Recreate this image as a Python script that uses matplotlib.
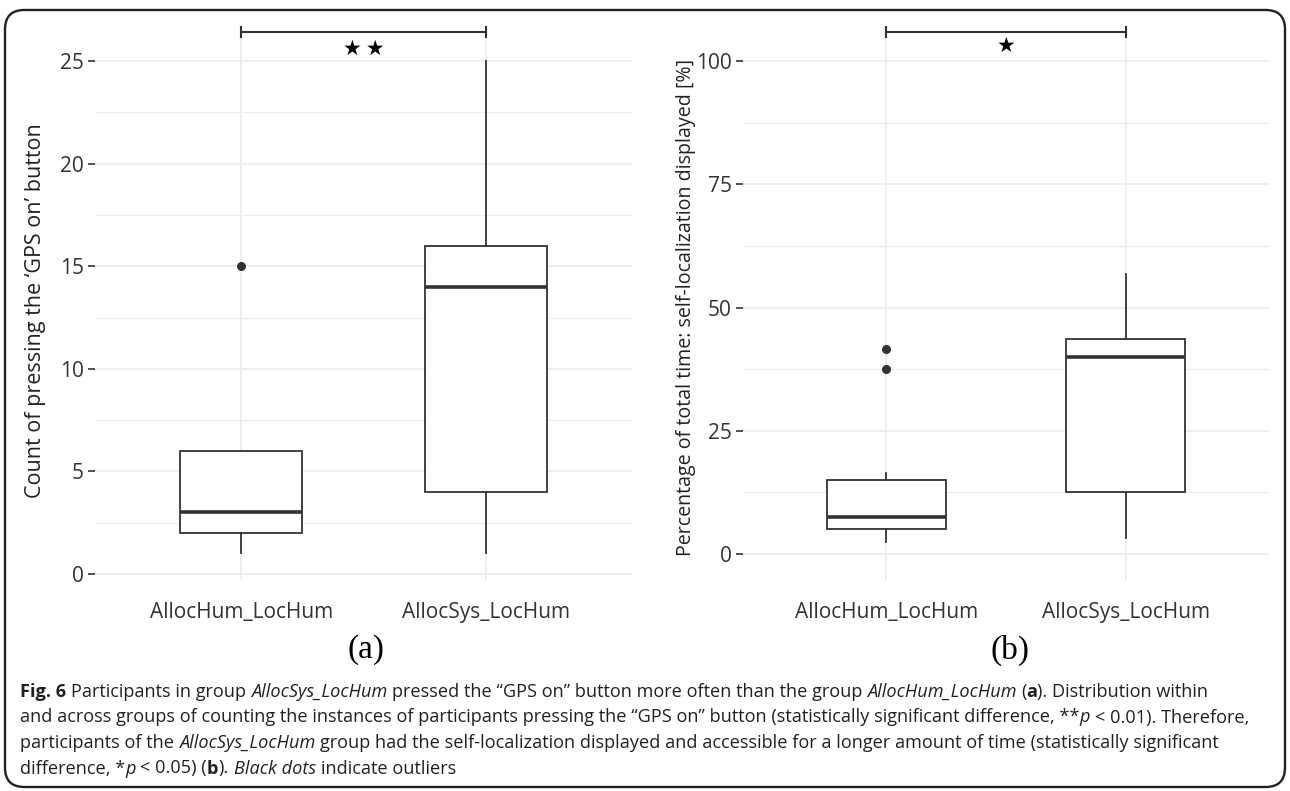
import matplotlib
matplotlib.use("Agg")
import matplotlib.pyplot as plt
from matplotlib.patches import FancyBboxPatch
from matplotlib.ticker import MultipleLocator

groups = ["AllocHum_LocHum", "AllocSys_LocHum"]

# (a) count of pressing the 'GPS on' button
gps_q1 = [2, 4]
gps_med = [3, 14]
gps_q3 = [6, 16]
gps_lo = [1, 1]
gps_hi = [6, 25]
gps_out = [[15], []]

# (b) percentage of total time self-localization displayed
pct_q1 = [5.0, 12.5]
pct_med = [7.5, 40.0]
pct_q3 = [15.0, 43.6]
pct_lo = [2.5, 3.2]
pct_hi = [16.5, 56.8]
pct_out = [[37.5, 41.6], []]

W, H = 1290, 791
fig = plt.figure(figsize=(W / 100, H / 100), dpi=100)
fig.patch.set_facecolor("white")

DARK = "#333333"
GRID = "#EBEBEB"
SANS = "Open Sans"


def px_axes(x0, x1, top, bottom):
    return fig.add_axes([x0 / W, 1 - bottom / H, (x1 - x0) / W, (bottom - top) / H])


def make_stats(q1, med, q3, lo, hi, out):
    stats = []
    for i in range(len(med)):
        stats.append(dict(q1=q1[i], med=med[i], q3=q3[i], whislo=lo[i], whishi=hi[i], fliers=out[i]))
    return stats


def draw_panel(ax, stats, ylim, major, minor, ylabel, lab_size, lab_xy,
               bracket_y, tick_h, star_y, stars):
    ax.bxp(stats, positions=[1, 2], widths=0.5, showcaps=False, patch_artist=True,
           boxprops=dict(facecolor="white", edgecolor=DARK, linewidth=1.3),
           medianprops=dict(color=DARK, linewidth=2.6),
           whiskerprops=dict(color=DARK, linewidth=1.3),
           flierprops=dict(marker="o", markersize=5.5, markerfacecolor=DARK,
                           markeredgecolor=DARK))
    ax.set_xlim(0.4, 2.6)
    ax.set_ylim(*ylim)
    ax.yaxis.set_major_locator(MultipleLocator(major))
    ax.yaxis.set_minor_locator(MultipleLocator(minor))
    ax.set_xticks([1, 2])
    ax.set_xticklabels(groups)
    for s in ax.spines.values():
        s.set_visible(False)
    ax.grid(True, which="major", color=GRID, linewidth=1.2, zorder=0)
    ax.grid(True, which="minor", axis="y", color=GRID, linewidth=1.0, zorder=0)
    ax.set_axisbelow(True)
    ax.tick_params(axis="y", which="major", length=5, width=1.2, color=DARK, pad=3,
                   labelsize=15, labelcolor=DARK)
    ax.tick_params(axis="x", which="major", length=0, pad=16, labelsize=15, labelcolor=DARK)
    ax.tick_params(which="minor", length=0)
    for lab in ax.get_xticklabels() + ax.get_yticklabels():
        lab.set_family(SANS)
    ax.set_ylabel(ylabel, fontsize=lab_size, family=SANS, color="#222222")
    ax.yaxis.label.set_va("center")
    ax.yaxis.set_label_coords(*lab_xy)
    # significance bracket
    ax.plot([1, 2], [bracket_y, bracket_y], color=DARK, lw=1.5, clip_on=False)
    for xb in (1, 2):
        ax.plot([xb, xb], [bracket_y - tick_h, bracket_y + tick_h], color=DARK, lw=1.5,
                clip_on=False)
    ax.text(1.5, star_y, stars, ha="center", va="center", fontsize=15,
            family="DejaVu Sans", color="black", clip_on=False)


TOP, BOT = 26, 580

ax1 = px_axes(95, 632, TOP, BOT)
draw_panel(ax1, make_stats(gps_q1, gps_med, gps_q3, gps_lo, gps_hi, gps_out),
           ((574 - BOT) / 20.52, (574 - TOP) / 20.52), 5, 2.5,
           "Count of pressing the \u2018GPS on\u2019 button", 15.5,
           ((36 - 95) / 537, (BOT - 311) / (BOT - TOP)),
           26.4, 0.25, 25.6, "\u2605\u2009\u2605")

ax2 = px_axes(743, 1269, TOP, BOT)
draw_panel(ax2, make_stats(pct_q1, pct_med, pct_q3, pct_lo, pct_hi, pct_out),
           ((554 - BOT) / 4.93, (554 - TOP) / 4.93), 25, 12.5,
           "Percentage of total time: self-localization displayed [%]", 14.1,
           ((686 - 743) / 526, (BOT - 307) / (BOT - TOP)),
           105.9, 1.0, 103.0, "\u2605")

# panel letters
fig.text(366 / W, 1 - 650 / H, "(a)", ha="center", va="center", fontsize=24,
         family="Liberation Serif", color="black")
fig.text(1010 / W, 1 - 650 / H, "(b)", ha="center", va="center", fontsize=24,
         family="Liberation Serif", color="black")

# caption with mixed styles
caption = [
    [("Fig. 6", "bold", "normal"), (" Participants in group ", "normal", "normal"),
     ("AllocSys_LocHum", "normal", "italic"),
     (" pressed the \u201cGPS on\u201d button more often than the group ", "normal", "normal"),
     ("AllocHum_LocHum", "normal", "italic"), (" (", "normal", "normal"),
     ("a", "bold", "normal"), ("). Distribution within", "normal", "normal")],
    [("and across groups of counting the instances of participants pressing the \u201cGPS on\u201d "
      "button (statistically significant difference, **", "normal", "normal"),
     ("p", "normal", "italic"), (" < 0.01). Therefore,", "normal", "normal")],
    [("participants of the ", "normal", "normal"), ("AllocSys_LocHum", "normal", "italic"),
     (" group had the self-localization displayed and accessible for a longer amount of time "
      "(statistically significant", "normal", "normal")],
    [("difference, *", "normal", "normal"), ("p", "normal", "italic"),
     (" < 0.05) (", "normal", "normal"), ("b", "bold", "normal"), (").", "normal", "normal"),
     (" Black dots", "normal", "italic"), (" indicate outliers", "normal", "normal")],
]

renderer = fig.canvas.get_renderer()
CAP_SIZE = 13.1
CAP_COLOR = "#231F20"


def text_width(s, wt, st):
    t = fig.text(0, 0, s, fontsize=CAP_SIZE, fontweight=wt, fontstyle=st, family=SANS)
    w = t.get_window_extent(renderer).width
    t.remove()
    return w


space_w = text_width("x x", "normal", "normal") - text_width("xx", "normal", "normal")

y0 = 692
for i, line in enumerate(caption):
    x = 20.0
    y = y0 + i * 25.5
    for s, wt, st in line:
        lead = len(s) - len(s.lstrip(" "))
        trail = len(s) - len(s.rstrip(" "))
        x += lead * space_w
        core = s.strip(" ")
        t = fig.text(x / W, 1 - y / H, core, fontsize=CAP_SIZE, fontweight=wt, fontstyle=st,
                     family=SANS, color=CAP_COLOR, va="center", ha="left")
        x += t.get_window_extent(renderer).width + trail * space_w

# rounded frame round the whole figure
frame = FancyBboxPatch((5 / W, 4 / H), (W - 10) / W, (H - 14) / H,
                       boxstyle="round,pad=0,rounding_size=0.015",
                       transform=fig.transFigure, fill=False, edgecolor="#222222",
                       linewidth=1.7, mutation_aspect=W / H)
fig.patches.append(frame)

fig.savefig("out.png", dpi=100)
